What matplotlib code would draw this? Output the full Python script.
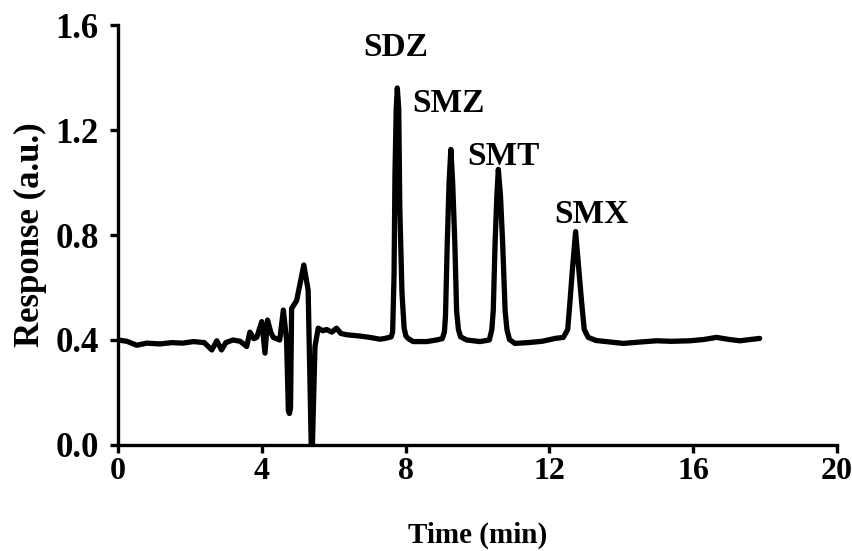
import matplotlib
matplotlib.use("Agg")
import matplotlib.pyplot as plt

plt.rcParams["font.family"] = ["Liberation Serif", "DejaVu Serif"]
plt.rcParams["font.weight"] = "bold"

# Chromatogram trace: retention time (min) and detector response (a.u.)
time_min = [
    0.00, 0.25, 0.52, 0.80, 1.17, 1.50, 1.80, 2.10, 2.40, 2.61, 2.75, 2.88,
    3.00, 3.20, 3.40, 3.58, 3.67, 3.78, 3.86, 4.00, 4.09, 4.16, 4.25, 4.32,
    4.50, 4.60, 4.69, 4.74, 4.77, 4.80, 4.83, 4.97, 5.17, 5.29, 5.39, 5.48,
    5.57, 5.70, 5.80, 5.95, 6.08, 6.20, 6.36, 6.73, 7.00, 7.29,
    # SDZ
    7.43, 7.60, 7.64, 7.68, 7.705, 7.74, 7.77, 7.81, 7.84, 7.90, 7.96, 8.01,
    8.07, 8.21, 8.59, 8.86,
    # SMZ
    9.02, 9.08, 9.11, 9.16, 9.21, 9.26, 9.31, 9.37, 9.42, 9.47, 9.53, 9.70,
    10.07,
    # SMT
    10.33, 10.40, 10.44, 10.49, 10.54, 10.58, 10.64, 10.70, 10.77, 10.82,
    10.89, 11.04, 11.40, 11.80, 12.16,
    # SMX
    12.39, 12.51, 12.57, 12.64, 12.73, 12.82, 12.90, 12.97, 13.08, 13.30,
    14.06, 14.50, 14.98, 15.40, 15.91, 16.30, 16.65, 17.00, 17.30, 17.60, 17.85,
]
response = [
    0.400, 0.395, 0.380, 0.388, 0.385, 0.390, 0.388, 0.394, 0.390, 0.362, 0.397, 0.362,
    0.390, 0.400, 0.395, 0.375, 0.430, 0.405, 0.410, 0.470, 0.350, 0.476, 0.430, 0.410,
    0.400, 0.514, 0.400, 0.130, 0.120, 0.140, 0.520, 0.550, 0.686, 0.590, -0.100, 0.375,
    0.445, 0.435, 0.440, 0.430, 0.445, 0.425, 0.420, 0.415, 0.410, 0.403,
    0.406, 0.412, 0.430, 0.650, 1.030, 1.280, 1.360, 1.280, 0.900, 0.580, 0.445, 0.415,
    0.406, 0.394, 0.394, 0.400,
    0.405, 0.430, 0.490, 0.770, 1.000, 1.126, 1.000, 0.770, 0.510, 0.440, 0.412, 0.400,
    0.394,
    0.400, 0.440, 0.514, 0.770, 0.950, 1.050, 0.950, 0.770, 0.510, 0.440,
    0.402, 0.387, 0.390, 0.395, 0.406,
    0.410, 0.440, 0.540, 0.667, 0.813, 0.667, 0.540, 0.440, 0.410, 0.398,
    0.387, 0.392, 0.397, 0.395, 0.397, 0.402, 0.410, 0.402, 0.397, 0.402, 0.406,
]

peak_names = ["SDZ", "SMZ", "SMT", "SMX"]
label_t = [7.72, 9.20, 10.73, 13.18]
label_v = [1.515, 1.30, 1.10, 0.878]

x_ticks = [0, 4, 8, 12, 16, 20]
y_ticks = [0.0, 0.4, 0.8, 1.2, 1.6]

fig = plt.figure(figsize=(8.53, 5.51), dpi=100)
ax = fig.add_axes([0.1383, 0.1924, 0.8429, 0.7622])

ax.plot(time_min, response, color="black", linewidth=3.8,
        solid_joinstyle="round", solid_capstyle="round")

for name, t, v in zip(peak_names, label_t, label_v):
    ax.text(t, v, name, ha="center", va="center", fontsize=24, fontweight="bold")

ax.set_xlim(0, 20)
ax.set_ylim(0, 1.6)
ax.set_xticks(x_ticks)
ax.set_yticks(y_ticks)
ax.set_xticklabels([str(v) for v in x_ticks])
ax.set_yticklabels([f"{v:.1f}" for v in y_ticks])

for side in ("top", "right"):
    ax.spines[side].set_visible(False)
for side in ("left", "bottom"):
    ax.spines[side].set_linewidth(2.4)

ax.tick_params(axis="both", direction="out", length=6, width=2.4)
ax.tick_params(axis="x", pad=3, labelsize=23)
ax.tick_params(axis="y", pad=8, labelsize=25)

ax.set_xlabel("Time (min)", fontsize=21, fontweight="bold", labelpad=25)
ax.set_ylabel("Response (a.u.)", fontsize=25, fontweight="bold", labelpad=6)

fig.savefig("out.png", dpi=100)
